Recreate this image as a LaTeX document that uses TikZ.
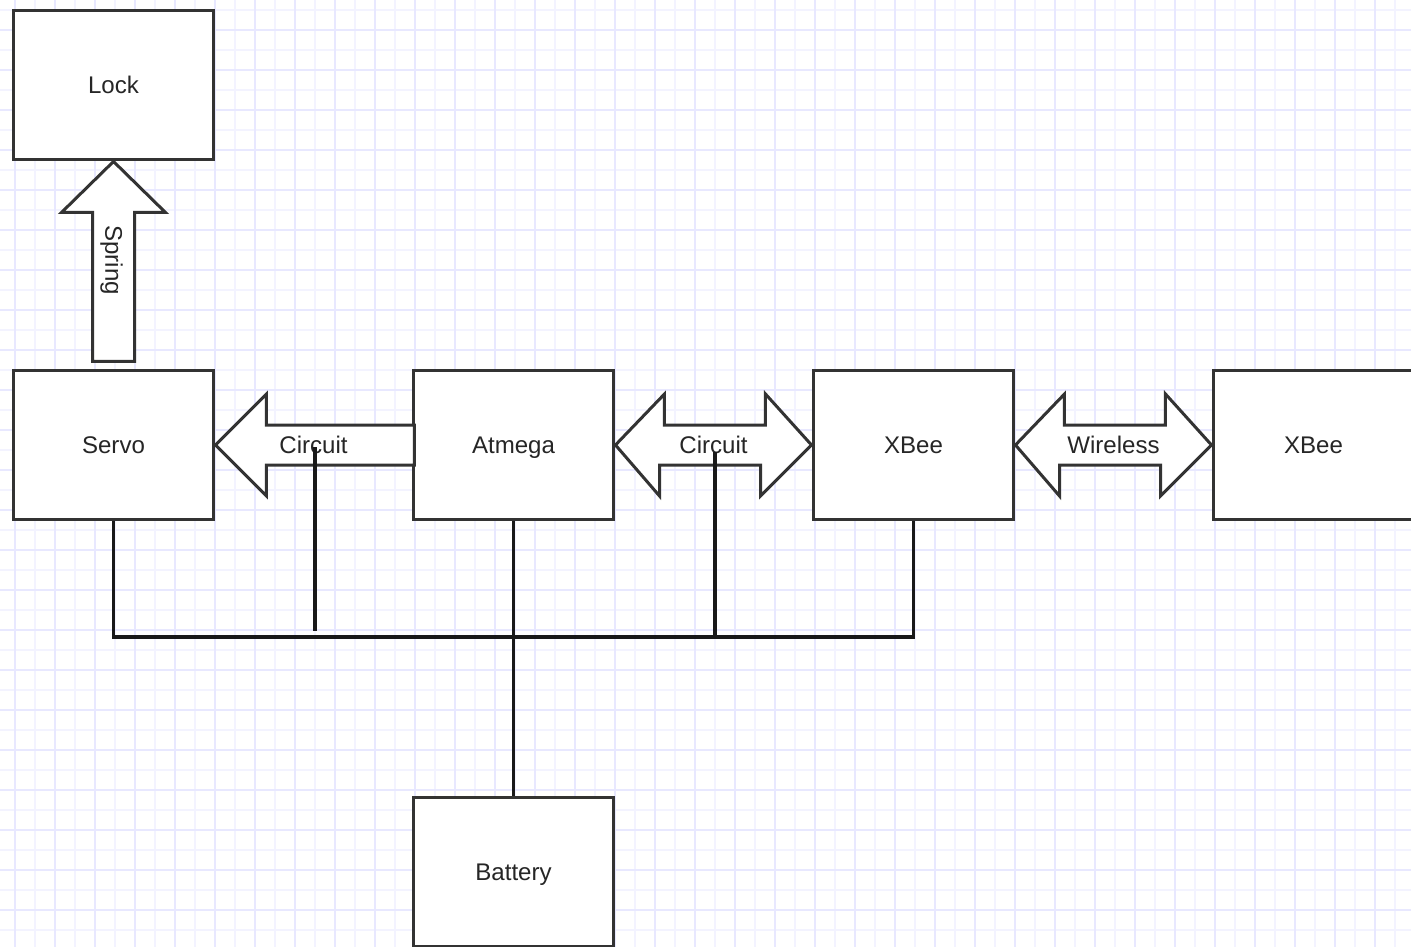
\documentclass[tikz,border=0pt]{standalone}
\usepackage{fontspec}
\setmainfont{Liberation Sans}
\usetikzlibrary{calc}

\definecolor{gridmajor}{HTML}{E8E8FF}
\definecolor{gridminor}{HTML}{F3F3FF}
\definecolor{boxline}{HTML}{333333}

\begin{document}
\begin{tikzpicture}[x=0.02cm,y=-0.02cm,
  block/.style={draw=boxline,fill=white,line width=0.06cm,minimum width=4.02cm,
    minimum height=3cm,inner sep=0pt,text depth=0pt,text=black!85,
    font=\fontsize{13.7}{16}\selectfont},
  blockarrow/.style={draw=boxline,fill=white,line width=0.06cm,line join=miter},
  arrowlabel/.style={inner sep=0pt,text depth=0pt,text=black!85,
    font=\fontsize{13.7}{16}\selectfont},
  wire/.style={line width=0.065cm,black!90}]
  \useasboundingbox (0,0) rectangle (1411,947);
  \clip (0,0) rectangle (1411,947);
  % background grid
  \fill[white] (0,0) rectangle (1411,947);
  \foreach \gx in {35,75,...,1415} \draw[gridminor,line width=0.035cm] (\gx,0) -- (\gx,947);
  \foreach \gy in {10,50,...,950} \draw[gridminor,line width=0.035cm] (0,\gy) -- (1411,\gy);
  \foreach \gx in {15,55,...,1415} \draw[gridmajor,line width=0.035cm] (\gx,0) -- (\gx,947);
  \foreach \gy in {30,70,...,950} \draw[gridmajor,line width=0.035cm] (0,\gy) -- (1411,\gy);

  % blocks
  \node[block] (lock)    at (113.5,85)  {Lock};
  \node[block] (servo)   at (113.5,445) {Servo};
  \node[block] (atmega)  at (513.5,445) {Atmega};
  \node[block] (xbee)    at (913.5,445) {XBee};
  \node[block] (xbeeR)   at (1313.5,445) {XBee};
  \node[block] (battery) at (513.5,872) {Battery};

  % spring
  \draw[blockarrow] (lock.south) -- ++(52,51) -- ++(-31,0) -- ++(0,149) -- ++(-42,0)
    -- ++(0,-149) -- ++(-31,0) -- cycle;
  \node[arrowlabel,rotate=-90] (spring) at (114,260) {Spring};

  % circuit to servo
  \draw[blockarrow] (servo.east) -- ++(51,-51) -- ++(0,31) -- ++(148,0) -- ++(0,40)
    -- ++(-148,0) -- ++(0,31) -- cycle;
  \node[arrowlabel] (circA) at ($(servo.east)!0.5!(atmega.west)$) {Circuit};

  % two-way links
  \foreach \a/\b/\t/\n in {atmega/xbee/Circuit/circB, xbee/xbeeR/Wireless/radio} {
    \draw[blockarrow] (\a.east) -- ++(49,-51) -- ++(0,31) -- ++(101,0) -- ++(0,-31)
      -- (\b.west) -- ++(-51,51) -- ++(0,-31) -- ++(-101,0) -- ++(0,31) -- cycle;
    \node[arrowlabel] (\n) at ($(\a.east)!0.5!(\b.west)$) {\t};
  }

  % power bus
  \coordinate (busL) at (112,637);
  \coordinate (tapA) at (315,447);
  \coordinate (tapB) at (715,452);
  \draw[wire] (servo.south) -- (servo.south |- busL);
  \draw[wire] (busL) -- (xbee.south |- busL) -- (xbee.south);
  \draw[wire] (tapA) -- ++(0,184);
  \draw[wire] (tapB) -- (tapB |- busL);
  \draw[wire] (atmega.south) -- (battery.north);
\end{tikzpicture}
\end{document}
